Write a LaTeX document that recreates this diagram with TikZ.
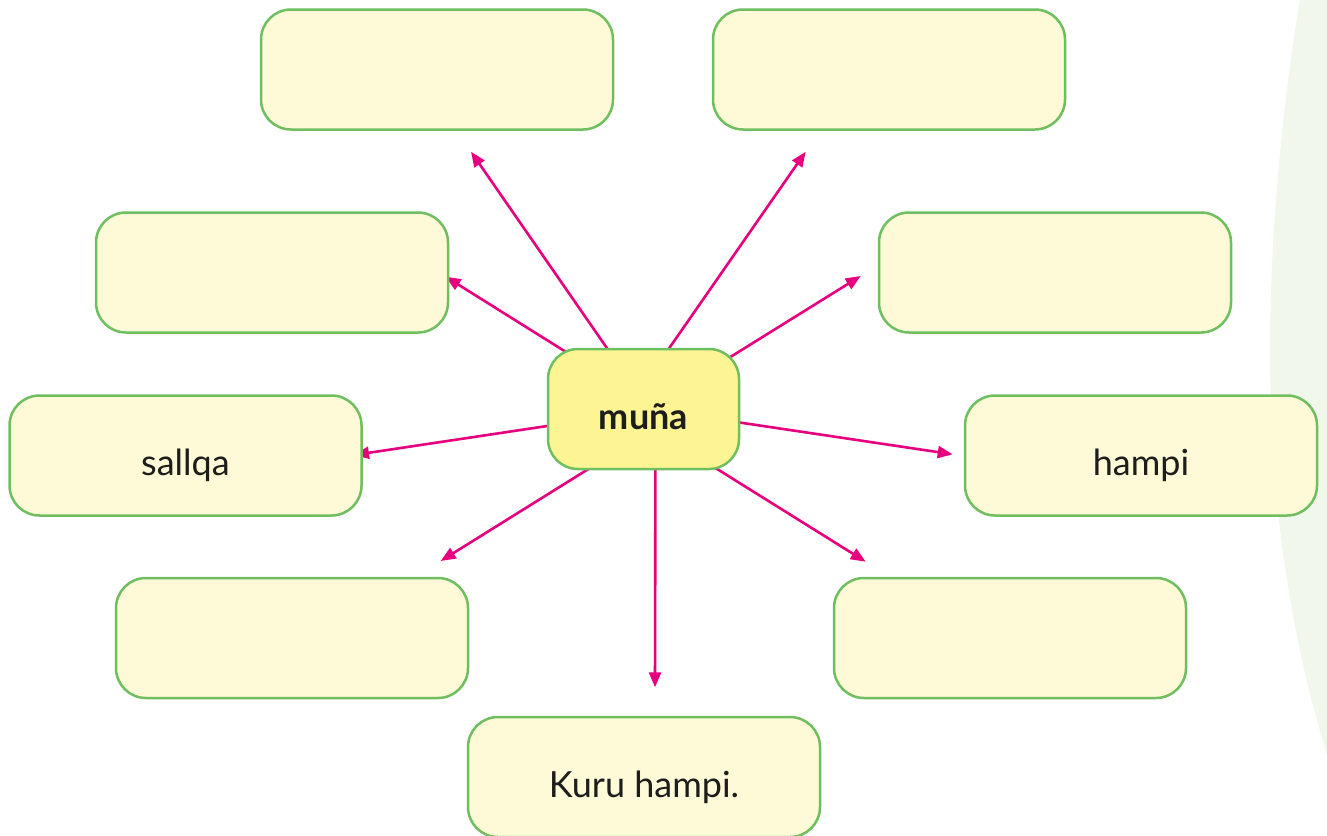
\documentclass[tikz,border=0pt]{standalone}
\usepackage{fontspec}
\setmainfont{Lato}
\usetikzlibrary{arrows.meta}
\definecolor{boxfill}{HTML}{FEF9D6}
\definecolor{centerfill}{HTML}{FDF494}
\definecolor{boxline}{HTML}{6FBE5F}
\definecolor{arrowcol}{HTML}{E6007E}
\definecolor{txt}{HTML}{1D1D1B}
\definecolor{bggreen}{HTML}{F2F7EC}
\pgfdeclarelayer{background}
\pgfsetlayers{background,main}
\tikzset{
  wordbox/.style={draw=boxline, line width=2.5pt, fill=boxfill, rounded corners=30pt,
    minimum width=352pt, minimum height=120pt, inner sep=0pt, text=txt,
    text height=40pt, text depth=0pt,
    font=\fontsize{36}{42}\selectfont},
  centerbox/.style={wordbox, fill=centerfill, minimum width=191pt, minimum height=120pt,
    font=\fontsize{36}{42}\selectfont\bfseries},
  arr/.style={draw=arrowcol, line width=2.6pt, shorten <=-15pt,
    -{Triangle[length=15pt,width=12pt]}}
}
\begin{document}
\begin{tikzpicture}[x=1pt,y=-1pt]
\useasboundingbox (0,0) rectangle (1327,835);
\begin{pgfonlayer}{background}
\fill[bggreen] (1300,0) .. controls (1283,100) and (1270,230) .. (1270,350)
  .. controls (1270,520) and (1295,650) .. (1327,755) -- (1327,0) -- cycle;
\end{pgfonlayer}
\node[wordbox] (tl) at (437,69.5) {};
\node[wordbox] (tr) at (889,69.5) {};
\node[wordbox] (ml) at (272,272.5) {};
\node[wordbox] (mr) at (1055,272.5) {};
\node[centerbox] (c) at (643.5,409) {muña};
\node[wordbox] (l) at (185.5,455.5) {sallqa};
\node[wordbox] (r) at (1141,455.5) {hampi};
\node[wordbox] (ll) at (292,638) {};
\node[wordbox] (lr) at (1010,638) {};
\node[wordbox] (b) at (644,777) {Kuru hampi.};
\coordinate (t1) at (471,151.7);
\coordinate (t2) at (805.7,151.7);
\coordinate (t3) at (445.7,276.7);
\coordinate (t4) at (860.7,276);
\coordinate (t5) at (354,455);
\coordinate (t6) at (952.7,454.3);
\coordinate (t7) at (440.7,561);
\coordinate (t8) at (865.7,561.7);
\coordinate (t9) at (655,687.3);
\begin{pgfonlayer}{background}
\draw[arr] (c.121) -- (t1);
\draw[arr] (c.67) -- (t2);
\draw[arr] (c.144) -- (t3);
\draw[arr] (c.31) -- (t4);
\draw[arr] (c.190) -- (t5);
\draw[arr] (c.352) -- (t6);
\draw[arr] (c.227) -- (t7);
\draw[arr] (c.321) -- (t8);
\draw[arr] (c.281) -- (t9);
\end{pgfonlayer}
\end{tikzpicture}
\end{document}
